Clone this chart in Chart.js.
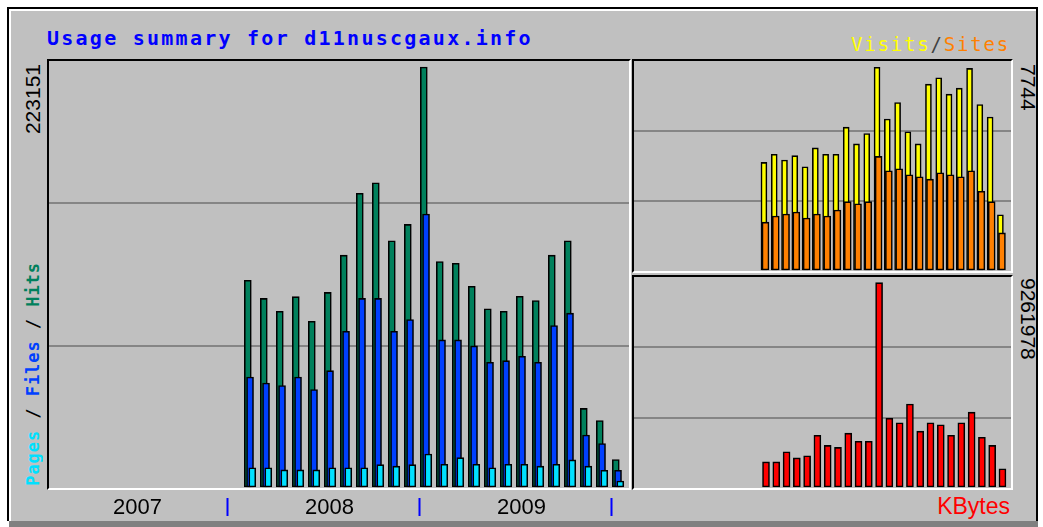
<!DOCTYPE html>
<html>
<head>
<meta charset="utf-8">
<title>Usage summary for d11nuscgaux.info</title>
<script src="https://cdn.jsdelivr.net/npm/chart.js@4/dist/chart.umd.min.js"></script>
<style>
  body { margin: 0; width: 1043px; height: 527px; position: relative; overflow: hidden; background: #fff; }
  #frame { position: absolute; left: 7px; top: 7px; width: 1027px; height: 512px; background: #c0c0c0;
           border: 2px solid #000; border-bottom: none; box-shadow: inset 2px 2px 0 #fff; }
  #shadow { position: absolute; left: 9px; top: 521px; width: 1029px; height: 6px; background: #808080; }
  .panel { position: absolute; box-sizing: border-box; border-top: 2px solid #000; border-left: 2px solid #000;
           border-right: 2px solid #fff; border-bottom: 2px solid #fff; }
  canvas { position: absolute; }
  .txt { position: absolute; white-space: nowrap; line-height: 1.2; }
  .mono { font-family: "DejaVu Sans Mono", monospace; }
  .sans { font-family: "Liberation Sans", Arial, sans-serif; }
  .up { writing-mode: vertical-rl; transform: rotate(180deg); }
  .down { writing-mode: vertical-rl; }
</style>
</head>
<body>
<div id="frame"></div>
<div id="shadow"></div>

<div class="panel" style="left:47px; top:59px; width:584px; height:431px;"></div>
<div class="panel" style="left:632px; top:59px; width:381px; height:214px;"></div>
<div class="panel" style="left:632px; top:275px; width:381px; height:215px;"></div>

<canvas id="mainChart" width="580" height="460" style="left:49px; top:61px;"></canvas>
<canvas id="visitsChart" width="377" height="210" style="left:634px; top:61px;"></canvas>
<canvas id="kbytesChart" width="377" height="211" style="left:634px; top:277px;"></canvas>

<div class="txt mono" style="left:47px; top:26px; font-size:20px; font-weight:bold; letter-spacing:2.25px; color:#0000ff;">Usage summary for d11nuscgaux.info</div>
<div class="txt mono" style="right:33px; top:33px; font-size:19px; letter-spacing:1.8px;"><span style="color:#ffff00">Visits</span><span style="color:#404040">/</span><span style="color:#ff8000">Sites</span></div>

<div class="txt sans up" style="left:24px; top:64px; font-size:21px; line-height:18px; color:#000;">223151</div>
<div class="txt mono up" style="left:25px; top:262px; font-size:17px; font-weight:bold; line-height:17px; letter-spacing:0.95px;"><span style="color:#00e0ff">Pages</span><span style="color:#000"> / </span><span style="color:#0040ff">Files</span><span style="color:#000"> / </span><span style="color:#00805c">Hits</span></div>

<div class="txt sans down" style="left:1019px; top:64px; font-size:21px; line-height:18px; color:#000;">7744</div>
<div class="txt sans down" style="left:1019px; top:278px; font-size:21px; line-height:18px; color:#000;">9261978</div>
<div class="txt sans" style="right:33px; top:493px; font-size:23px; color:#ff0000;">KBytes</div>

<script>
// months shown, Feb 2008 .. Jan 2010
const months = ['2008-02', '2008-03', '2008-04', '2008-05', '2008-06', '2008-07', '2008-08', '2008-09',
                '2008-10', '2008-11', '2008-12', '2009-01', '2009-02', '2009-03', '2009-04', '2009-05',
                '2009-06', '2009-07', '2009-08', '2009-09', '2009-10', '2009-11', '2009-12', '2010-01'];
const years = ['2007', '2008', '2009'];

const hits   = [110100, 100500, 93700, 101400, 88400, 103700, 123400, 156200, 161800, 131000, 139700, 223151,
                120000, 119100, 106900, 95000, 93700, 101600, 99400, 123400, 131000, 42200, 35800, 15100];
const files  = [58800, 55600, 54300, 58800, 52200, 62200, 83100, 100500, 100500, 83100, 89300, 145200,
                78500, 78500, 75300, 66600, 67500, 69800, 66600, 86100, 92700, 28100, 23600, 9400];
const pages  = [10700, 10700, 9600, 9600, 9600, 10700, 10700, 10700, 12400, 11600, 12400, 18000,
                12600, 16100, 12600, 10700, 12600, 12600, 11600, 12600, 14900, 11600, 9400, 3700];
const visits = [4129, 4435, 4220, 4385, 3964, 4680, 4435, 4435, 5469, 4833, 5228, 7744,
                5775, 6403, 5293, 4833, 7104, 7346, 6721, 6951, 7700, 6327, 5852, 2137];
const sites  = [1857, 2087, 2164, 2240, 2011, 2164, 2087, 2317, 2635, 2558, 2635, 4358,
                3811, 3887, 3657, 3581, 3493, 3734, 3657, 3581, 3811, 3033, 2635, 1448];
const kbytes = [1176600, 1176600, 1634500, 1359800, 1451300, 2380700, 1922900, 1831300, 2472300, 2106000, 2106000, 9261978,
                3145300, 2943900, 3786300, 2563800, 2943900, 2852300, 2380700, 2943900, 3420000, 2289200, 1922900, 869900];

// month position on a linear axis counted from Jan 2007
function monthPos(label) {
    const parts = label.split('-');
    return (parseInt(parts[0]) - 2007) * 12 + parseInt(parts[1]) - 1 + 0.44;
}

function barSet(label, values, shift, color, width) {
    return {
        label: label,
        data: values.map((v, i) => ({ x: monthPos(months[i]) + shift, y: v })),
        backgroundColor: color,
        borderColor: '#000',
        borderWidth: 1.6,
        borderSkipped: false,
        barThickness: width,
        grouped: false
    };
}

// three equal bands, only the two inner lines drawn
function yScale(max) {
    return {
        min: 0,
        max: max,
        afterBuildTicks: s => { s.ticks = [0, 1, 2, 3].map(k => ({ value: k * max / 3 })); },
        afterFit: s => { s.width = 0; },
        ticks: { display: false },
        grid: {
            drawTicks: false,
            lineWidth: 2,
            color: ctx => (ctx.index === 1 || ctx.index === 2) ? '#858585' : 'rgba(0,0,0,0)'
        },
        border: { display: false }
    };
}

const baseOptions = {
    responsive: false,
    animation: false,
    layout: { padding: 0 },
    plugins: { legend: { display: false }, tooltip: { enabled: true } }
};

function initMainChart() {
    const yearTicks = [];
    years.forEach((y, k) => {
        yearTicks.push({ value: 12 * k + 6.4, label: y });
        yearTicks.push({ value: 12 * (k + 1), label: '' });
    });

    new Chart(document.getElementById('mainChart'), {
        type: 'bar',
        data: {
            datasets: [
                barSet('Pages', pages, 0.14, '#00e0ff', 7),
                barSet('Files', files, 0, '#0040ff', 7),
                barSet('Hits', hits, -0.14, '#00805c', 7)
            ]
        },
        options: Object.assign({}, baseOptions, {
            scales: {
                x: {
                    type: 'linear',
                    min: 0.875,
                    max: 37.125,
                    offset: false,
                    afterBuildTicks: s => { s.ticks = yearTicks.map(t => ({ value: t.value })); },
                    afterFit: s => { s.height = 33; },
                    ticks: {
                        autoSkip: false,
                        maxRotation: 0,
                        padding: -21,
                        color: '#000',
                        font: { family: 'Liberation Sans', size: 22 },
                        callback: (v, i) => yearTicks[i] ? yearTicks[i].label : ''
                    },
                    grid: {
                        offset: false,
                        drawOnChartArea: false,
                        drawTicks: true,
                        tickLength: 28,
                        tickWidth: 2,
                        tickBorderDash: [0, 10, 18, 60],
                        tickColor: ctx => (ctx.tick && yearTicks[ctx.index] && yearTicks[ctx.index].label === '') ? '#0000ff' : 'rgba(0,0,0,0)'
                    },
                    border: { display: false }
                },
                y: yScale(226330)
            }
        })
    });
}

function initVisitsChart() {
    new Chart(document.getElementById('visitsChart'), {
        type: 'bar',
        data: {
            datasets: [
                barSet('Sites', sites, 0.05, '#ff8000', 7),
                barSet('Visits', visits, -0.1, '#ffff00', 6)
            ]
        },
        options: Object.assign({}, baseOptions, {
            scales: {
                x: { type: 'linear', min: 0.70, max: 37.37, offset: false, display: false },
                y: yScale(7983)
            }
        })
    });
}

function initKbytesChart() {
    new Chart(document.getElementById('kbytesChart'), {
        type: 'bar',
        data: {
            datasets: [ barSet('KBytes', kbytes, 0.1, '#ff0000', 7) ]
        },
        options: Object.assign({}, baseOptions, {
            scales: {
                x: { type: 'linear', min: 0.70, max: 37.37, offset: false, display: false },
                y: yScale(9519000)
            }
        })
    });
}

initMainChart();
initVisitsChart();
initKbytesChart();
</script>
</body>
</html>
